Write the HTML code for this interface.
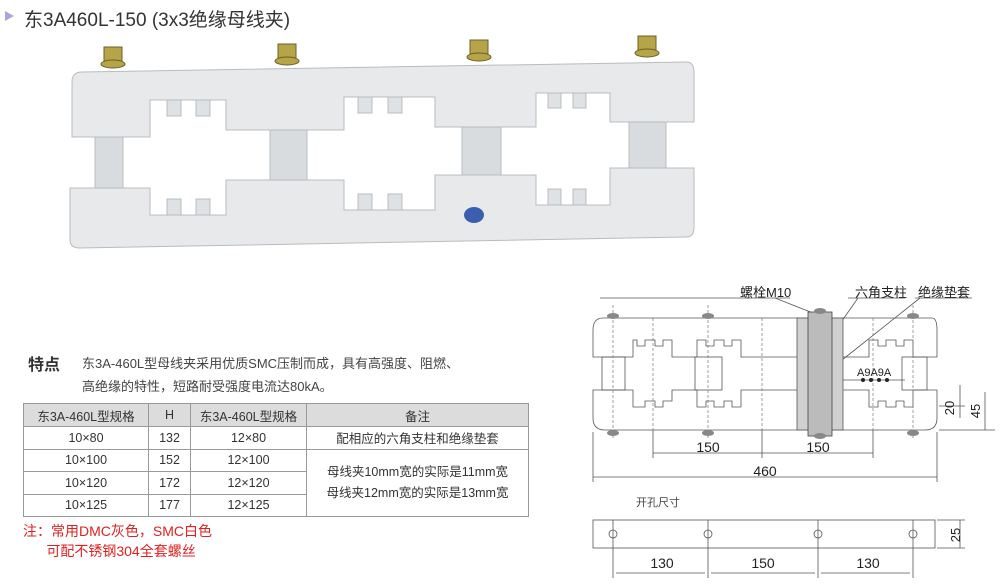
<!DOCTYPE html>
<html><head><meta charset="utf-8">
<style>
body{margin:0;width:1000px;height:587px;background:#fff;overflow:hidden;font-family:"Liberation Sans","Noto Sans CJK SC",sans-serif;position:relative}
.a{position:absolute;white-space:nowrap}
table{position:absolute;left:23px;top:403px;border-collapse:collapse;font-size:12.5px;color:#333}
td{border:1px solid #999;text-align:center;padding:0;height:21.5px}
tr.h td{background:#dcdcdc;height:22px}
</style></head><body>
<div class="a" style="left:5px;top:11px;width:0;height:0;border-left:9px solid #a9a9d9;border-top:5.5px solid transparent;border-bottom:5.5px solid transparent"></div>
<div class="a" style="left:24px;top:5px;font-size:19px;color:#333">东3A460L-150 (3x3绝缘母线夹)</div>

<svg class="a" style="left:0;top:0" width="1000" height="587">
<!-- product photo -->
<g stroke="#b8bcc0" stroke-width="1">
<rect x="95" y="130" width="28" height="65" fill="#d9dcdf"/>
<rect x="270" y="125" width="37" height="65" fill="#d9dcdf"/>
<rect x="462" y="120" width="39" height="65" fill="#d9dcdf"/>
<rect x="629" y="115" width="37" height="60" fill="#d9dcdf"/>
<path d="M72,82 Q72,72 82,72 L686,62 Q694,62 694,72 L694,122 L610,122 L610,93 L536,93 L536,127 L435,127 L435,97 L344,97 L344,130 L226,130 L226,100 L150,100 L150,137 L72,137 Z" fill="#e7e9eb"/>
<path d="M70,188 L150,188 L150,215 L226,215 L226,180 L344,180 L344,210 L435,210 L435,175 L536,175 L536,205 L610,205 L610,168 L694,168 L694,228 Q694,237 686,237 L80,248 Q70,248 70,240 Z" fill="#e7e9eb"/>
</g>
<g fill="#dfe2e5" stroke="#b8bcc0">
<rect x="167" y="100" width="14" height="16"/><rect x="196" y="100" width="14" height="16"/>
<rect x="358" y="97" width="14" height="16"/><rect x="388" y="97" width="14" height="16"/>
<rect x="548" y="93" width="13" height="15"/><rect x="573" y="93" width="13" height="15"/>
<rect x="167" y="199" width="14" height="16"/><rect x="196" y="199" width="14" height="16"/>
<rect x="358" y="194" width="14" height="16"/><rect x="388" y="194" width="14" height="16"/>
<rect x="548" y="189" width="13" height="16"/><rect x="573" y="189" width="13" height="16"/>
</g>
<ellipse cx="474" cy="215" rx="10" ry="8" fill="#3a5fae"/>
<g fill="#b5a448" stroke="#6b6028">
<rect x="104" y="47" width="18" height="14"/><ellipse cx="113" cy="64" rx="12" ry="4"/>
<rect x="278" y="44" width="18" height="14"/><ellipse cx="287" cy="61" rx="12" ry="4"/>
<rect x="470" y="40" width="18" height="14"/><ellipse cx="479" cy="57" rx="12" ry="4"/>
<rect x="638" y="36" width="18" height="14"/><ellipse cx="647" cy="53" rx="12" ry="4"/>
</g>

<!-- technical drawing -->
<g fill="none" stroke="#555" stroke-width="0.8">
<path d="M603,318 L932,318 Q937,318 937,330 L937,357 L913,357 L913,340 L904,340 L904,346 L896,346 L896,340 L886,340 L886,346 L878,346 L878,340 L869,340 L869,357 L741,357 L741,340 L732,340 L732,346 L724,346 L724,340 L714,340 L714,346 L706,346 L706,340 L697,340 L697,357 L672,357 L672,340 L663,340 L663,346 L655,346 L655,340 L645,340 L645,346 L637,346 L637,340 L633,340 L633,357 L593,357 L593,330 Q593,318 603,318 Z"/>
<path d="M593,390 L633,390 L633,407 L645,407 L645,401 L655,401 L655,407 L663,407 L663,401 L672,401 L672,390 L697,390 L697,407 L706,407 L706,401 L714,401 L714,407 L724,407 L724,401 L732,401 L732,407 L741,407 L741,390 L869,390 L869,407 L878,407 L878,401 L886,401 L886,407 L896,407 L896,401 L904,401 L904,407 L913,407 L913,390 L937,390 L937,418 Q937,430 925,430 L605,430 Q593,430 593,418 Z"/>
<rect x="602" y="357" width="23" height="33"/><rect x="695" y="357" width="27" height="33"/><rect x="902" y="357" width="25" height="33"/>
<line x1="600" y1="298" x2="790" y2="298"/><line x1="848" y1="298" x2="905" y2="298"/><line x1="915" y1="298" x2="972" y2="298"/>
<line x1="775" y1="298" x2="818" y2="315"/><line x1="858" y1="298" x2="832" y2="335"/><line x1="920" y1="298" x2="832" y2="368"/>
<line x1="593" y1="432" x2="593" y2="482"/><line x1="937" y1="432" x2="937" y2="482"/>
<line x1="653" y1="430" x2="653" y2="458"/><line x1="762" y1="430" x2="762" y2="458"/><line x1="873" y1="430" x2="873" y2="458"/>
<line x1="653" y1="453" x2="873" y2="453"/><line x1="593" y1="477" x2="937" y2="477"/>
<line x1="939" y1="430" x2="995" y2="430"/><line x1="939" y1="406" x2="965" y2="406"/>
<line x1="960" y1="385" x2="960" y2="418"/><line x1="985" y1="392" x2="985" y2="430"/>
<line x1="840" y1="380" x2="905" y2="380"/>
<rect x="593" y="520" width="342" height="28"/>
<line x1="937" y1="520" x2="965" y2="520"/><line x1="937" y1="548" x2="965" y2="548"/><line x1="960" y1="520" x2="960" y2="548"/>
<line x1="613" y1="520" x2="613" y2="578"/><line x1="708" y1="520" x2="708" y2="578"/><line x1="818" y1="520" x2="818" y2="578"/><line x1="913" y1="520" x2="913" y2="578"/>
<line x1="616" y1="573" x2="705" y2="573"/><line x1="711" y1="573" x2="815" y2="573"/><line x1="821" y1="573" x2="910" y2="573"/>
<circle cx="613" cy="534" r="4"/><circle cx="708" cy="534" r="4"/><circle cx="818" cy="534" r="4"/><circle cx="913" cy="534" r="4"/>
</g>
<g stroke="#777" stroke-width="0.7" stroke-dasharray="3,2">
<line x1="613" y1="305" x2="613" y2="440"/><line x1="708" y1="305" x2="708" y2="440"/><line x1="913" y1="305" x2="913" y2="440"/>
<line x1="653" y1="318" x2="653" y2="430"/><line x1="762" y1="318" x2="762" y2="430"/><line x1="873" y1="318" x2="873" y2="430"/>
</g>
<rect x="797" y="318" width="46" height="112" fill="#d0d0d0" stroke="#555" stroke-width="0.8"/>
<rect x="808" y="312" width="24" height="124" fill="#bbb" stroke="#444" stroke-width="0.8"/>
<g fill="#888">
<ellipse cx="613" cy="316" rx="6" ry="3"/><ellipse cx="708" cy="316" rx="6" ry="3"/><ellipse cx="820" cy="311" rx="6" ry="3"/><ellipse cx="913" cy="316" rx="6" ry="3"/>
<ellipse cx="613" cy="433" rx="6" ry="3"/><ellipse cx="708" cy="433" rx="6" ry="3"/><ellipse cx="820" cy="436" rx="6" ry="3"/><ellipse cx="913" cy="433" rx="6" ry="3"/>
</g>
<g fill="#222"><circle cx="863" cy="380" r="2"/><circle cx="871" cy="380" r="2"/><circle cx="879" cy="380" r="2"/><circle cx="887" cy="380" r="2"/></g>
<g font-family="Liberation Sans,Noto Sans CJK SC,sans-serif" fill="#222">
<text x="740" y="297" font-size="13">螺栓M10</text>
<text x="855" y="297" font-size="13">六角支柱</text>
<text x="918" y="297" font-size="13">绝缘垫套</text>
<text x="857" y="376" font-size="11">A9A9A</text>
<text x="708" y="452" font-size="14" text-anchor="middle">150</text>
<text x="818" y="452" font-size="14" text-anchor="middle">150</text>
<text x="765" y="476" font-size="14" text-anchor="middle">460</text>
<text x="636" y="506" font-size="11" fill="#444">开孔尺寸</text>
<text x="662" y="568" font-size="14" text-anchor="middle">130</text>
<text x="763" y="568" font-size="14" text-anchor="middle">150</text>
<text x="868" y="568" font-size="14" text-anchor="middle">130</text>
<text transform="translate(954,408) rotate(-90)" font-size="13" text-anchor="middle">20</text>
<text transform="translate(980,411) rotate(-90)" font-size="13" text-anchor="middle">45</text>
<text transform="translate(960,535) rotate(-90)" font-size="13" text-anchor="middle">25</text>
</g>
</svg>

<div class="a" style="left:28px;top:351px;font-size:16px;font-weight:bold;color:#333">特点</div>
<div class="a" style="left:82px;top:352px;font-size:13px;color:#444;line-height:23px">东3A-460L型母线夹采用优质SMC压制而成，具有高强度、阻燃、<br>高绝缘的特性，短路耐受强度电流达80kA。</div>
<table>
<tr class="h"><td style="width:124px">东3A-460L型规格</td><td style="width:41px">H</td><td style="width:115px">东3A-460L型规格</td><td style="width:221px">备注</td></tr>
<tr><td>10×80</td><td>132</td><td>12×80</td><td>配相应的六角支柱和绝缘垫套</td></tr>
<tr><td>10×100</td><td>152</td><td>12×100</td><td rowspan="3" style="line-height:21px">母线夹10mm宽的实际是11mm宽<br>母线夹12mm宽的实际是13mm宽</td></tr>
<tr><td>10×120</td><td>172</td><td>12×120</td></tr>
<tr><td>10×125</td><td>177</td><td>12×125</td></tr>
</table>
<div class="a" style="left:23px;top:521px;font-size:14px;color:#e02020;line-height:20px">注：常用DMC灰色，SMC白色<br>&nbsp;&nbsp;&nbsp;&nbsp;&nbsp;&nbsp;可配不锈钢304全套螺丝</div>
</body></html>
